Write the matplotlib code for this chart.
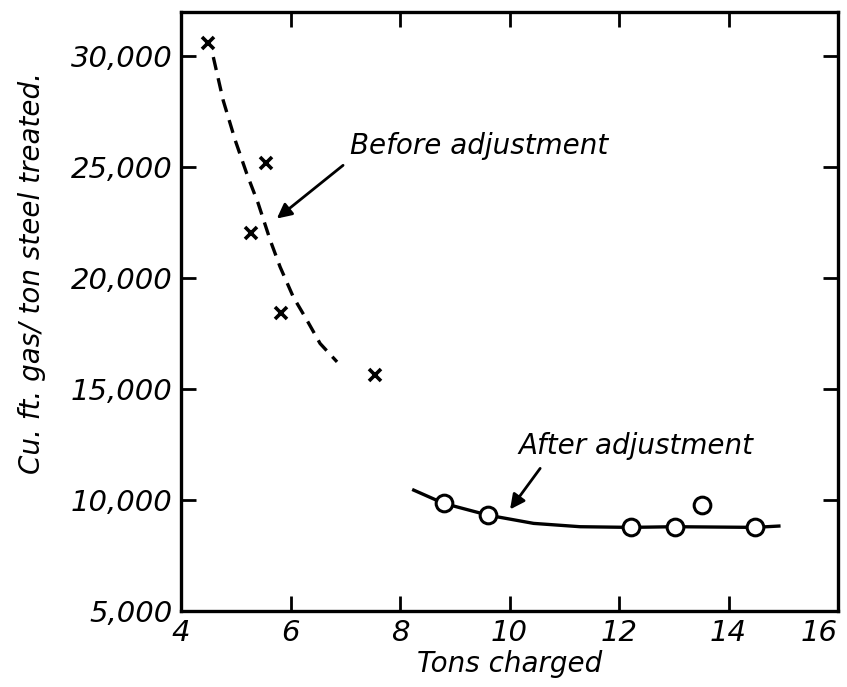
import matplotlib
matplotlib.use('Agg')
import matplotlib.pyplot as plt

# measured points
before_x = [4.50, 5.55, 5.28, 5.83, 7.55]
before_y = [30600, 25200, 22050, 18450, 15650]
after_x = [8.80, 9.61, 12.21, 13.03, 13.52, 14.48]
after_y = [9850, 9320, 8770, 8800, 9780, 8770]

# fitted curves
before_curve_x = [4.59, 4.77, 4.99, 5.20, 5.41, 5.63, 5.81, 6.05, 6.30, 6.54, 6.85]
before_curve_y = [29970, 28020, 26220, 24720, 23370, 21710, 20510, 19160, 18110, 17060, 16230]
after_curve_x = [8.25, 8.80, 9.61, 10.44, 11.29, 12.21, 13.03, 14.48, 14.92]
after_curve_y = [10450, 9850, 9320, 8950, 8800, 8770, 8800, 8770, 8830]

x_ticks = [4, 6, 8, 10, 12, 14, 16]
y_ticks = [5000, 10000, 15000, 20000, 25000, 30000]

plt.rcParams['font.family'] = 'DejaVu Sans'
plt.rcParams['font.style'] = 'oblique'

fig = plt.figure(figsize=(8.47, 6.87), dpi=100)
ax = fig.add_axes([0.2137, 0.1106, 0.7757, 0.8719])

ax.plot(before_curve_x, before_curve_y, color='black', lw=2.4, ls=(0, (4, 2.5)))
ax.plot(after_curve_x, after_curve_y, color='black', lw=2.4)

ax.plot(before_x, before_y, ls='none', marker='x', ms=9, mew=2.6, color='black')
ax.plot(after_x, after_y, ls='none', marker='o', ms=12, mew=2.2,
        mfc='white', mec='black')

# labels with pointer arrows
arrow = dict(arrowstyle='-|>', color='black', lw=2, mutation_scale=22,
             shrinkA=0, shrinkB=0)
ax.annotate('', xy=(5.75, 22690), xytext=(6.96, 25090), arrowprops=arrow)
ax.text(7.09, 25950, 'Before adjustment', fontsize=20, va='center', ha='left')
ax.annotate('', xy=(10.01, 9580), xytext=(10.56, 11430), arrowprops=arrow)
ax.text(10.16, 12430, 'After adjustment', fontsize=20, va='center', ha='left')

ax.set_xlim(4, 16)
ax.set_ylim(5000, 32000)
ax.set_xticks(x_ticks)
ax.set_xticklabels([str(v) for v in x_ticks])
ax.set_yticks(y_ticks)
ax.set_yticklabels(['{:,}'.format(v) for v in y_ticks])
ax.get_xticklabels()[-1].set_ha('right')

ax.tick_params(direction='in', length=11, width=2, labelsize=21,
               top=True, right=True, pad=6)
for s in ax.spines.values():
    s.set_linewidth(2.4)

ax.set_xlabel('Tons charged', fontsize=20, labelpad=2)
ax.set_ylabel('Cu. ft. gas/ ton steel treated.', fontsize=20)
ax.yaxis.set_label_coords(-0.205, 0.564)

plt.savefig('out.png', dpi=100)
